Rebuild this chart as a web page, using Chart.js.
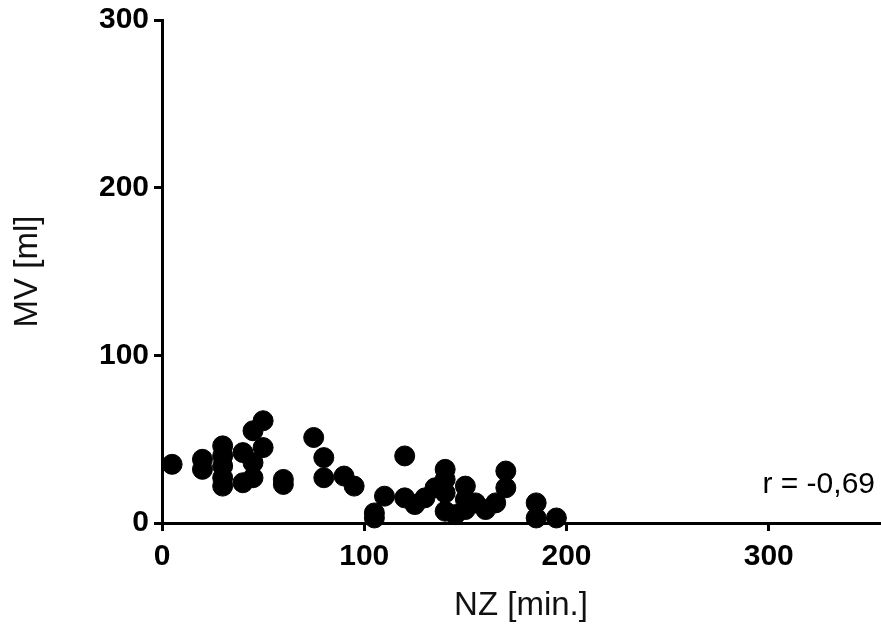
<!DOCTYPE html>
<html>
<head>
<meta charset="utf-8">
<script src="https://cdn.jsdelivr.net/npm/chart.js@4/dist/chart.umd.min.js"></script>
<style>
  html, body { margin: 0; padding: 0; background: #fff; }
  #wrap { width: 881px; height: 626px; }
</style>
</head>
<body>
<div id="wrap"><canvas id="chart" width="881" height="626"></canvas></div>
<script>
// NZ [min.] vs MV [ml]
const nzValues = [5, 20, 20, 30, 30, 30, 30, 30, 40, 40, 45, 45, 45, 50, 50, 60, 60, 75, 80, 80,
    90, 95, 105, 105, 110, 120, 120, 125, 130, 135, 140, 140, 140, 140, 145, 150, 150, 150, 155,
    160, 165, 170, 170, 185, 185, 195];
const mvValues = [35, 38, 32, 46, 40, 34, 27, 22, 42, 24, 55, 36, 27, 61, 45, 26, 23, 51, 39, 27,
    28, 22, 6, 3, 16, 40, 15, 11, 15, 21, 32, 26, 18, 7, 5, 22, 14, 8, 12,
    8, 12, 31, 21, 12, 3, 3];
const xTicks = [0, 100, 200, 300];
const yTicks = [0, 100, 200, 300];
const rText = "r = -0,69";

const punkte = nzValues.map((x, i) => ({ x: x, y: mvValues[i] }));

// r-Wert unten rechts
const rLabel = {
    id: "rLabel",
    afterDraw(chart) {
        const ctx = chart.ctx;
        const area = chart.chartArea;
        ctx.save();
        ctx.font = "30px 'Liberation Sans', Arial, sans-serif";
        ctx.fillStyle = "#000";
        ctx.textAlign = "right";
        ctx.textBaseline = "alphabetic";
        ctx.fillText(rText, area.right - 5, area.bottom - 30);
        ctx.restore();
    },
};

const achse = {
    display: true,
    color: "#000",
    width: 3,
};

const tickFont = { family: "'Liberation Sans', Arial, sans-serif", size: 30, weight: "bold" };
const titelFont = { family: "'Liberation Sans', Arial, sans-serif", size: 33 };

new Chart(document.getElementById("chart"), {
    type: "scatter",
    data: {
        datasets: [
            {
                data: punkte,
                backgroundColor: "#000",
                borderColor: "#000",
                pointRadius: 10,
                pointHoverRadius: 10,
                clip: false,
            },
        ],
    },
    options: {
        responsive: false,
        animation: false,
        layout: { autoPadding: false, padding: { top: 20, right: 1, left: 0, bottom: 0 } },
        plugins: {
            legend: { display: false },
            tooltip: { enabled: false },
        },
        scales: {
            x: {
                type: "linear",
                min: 0,
                max: 355,
                afterBuildTicks: (scale) => {
                    scale.ticks = xTicks.map((v) => ({ value: v }));
                },
                afterFit: (scale) => {
                    scale.height = 103;
                    scale.paddingLeft = 0;
                    scale.paddingRight = 0;
                },
                border: achse,
                grid: {
                    drawOnChartArea: false,
                    drawTicks: true,
                    tickLength: 8,
                    lineWidth: 3,
                    color: "#000",
                },
                ticks: {
                    color: "#000",
                    padding: 8,
                    font: tickFont,
                },
                title: {
                    display: true,
                    text: "NZ [min.]",
                    color: "#111",
                    padding: { top: 6, bottom: 0 },
                    font: titelFont,
                },
            },
            y: {
                type: "linear",
                min: 0,
                max: 300,
                afterBuildTicks: (scale) => {
                    scale.ticks = yTicks.map((v) => ({ value: v }));
                },
                afterFit: (scale) => {
                    scale.width = 162;
                    scale.paddingTop = 0;
                    scale.paddingBottom = 0;
                },
                border: achse,
                grid: {
                    drawOnChartArea: false,
                    drawTicks: true,
                    tickLength: 8,
                    lineWidth: 3,
                    color: "#000",
                },
                ticks: {
                    color: "#000",
                    padding: 5,
                    font: tickFont,
                },
                title: {
                    display: true,
                    text: "MV [ml]",
                    color: "#111",
                    padding: { top: 8, bottom: 0 },
                    font: titelFont,
                },
            },
        },
    },
    plugins: [rLabel],
});
</script>
</body>
</html>
